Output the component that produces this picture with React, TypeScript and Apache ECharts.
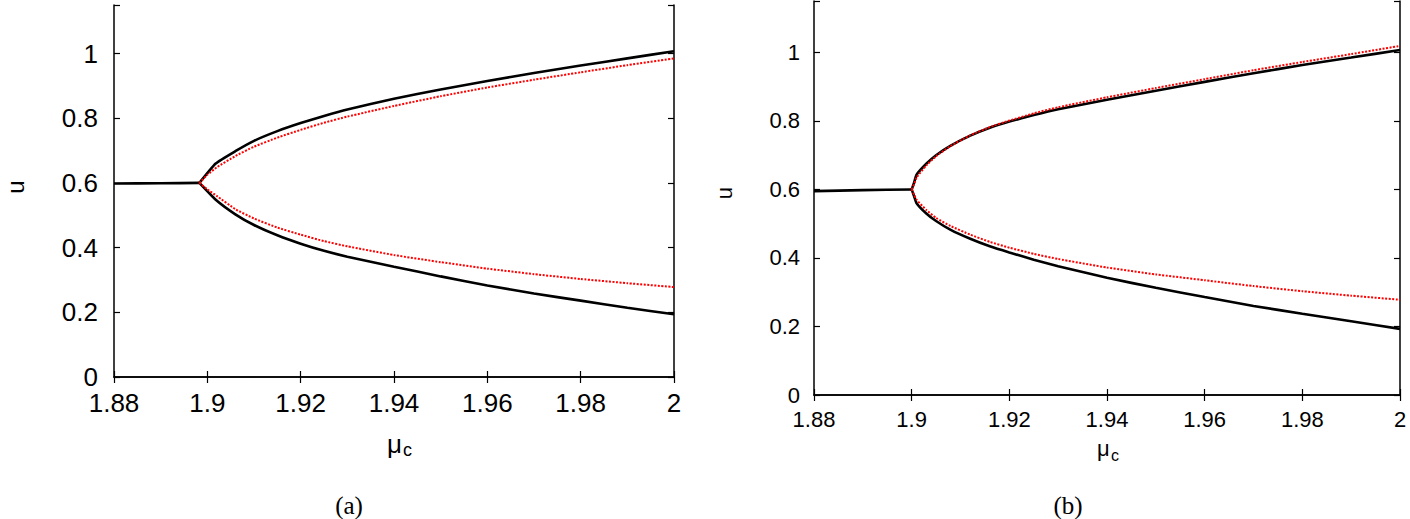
import React, { useEffect, useRef } from 'react';
import * as echarts from 'echarts';

// ---------- Panel (a) ----------
const muA_stable = [1.88, 1.89, 1.8983];
const uA_stable = [0.598, 0.599, 0.6];
const muA_black = [1.8983, 1.9018, 1.906, 1.91, 1.915, 1.92, 1.925, 1.93, 1.94, 1.95, 1.96, 1.97, 1.98, 1.99, 2.0];
const uA_black_up = [0.6, 0.66, 0.698, 0.73, 0.76, 0.785, 0.807, 0.827, 0.86, 0.889, 0.915, 0.94, 0.963, 0.985, 1.007];
const uA_black_lo = [0.6, 0.548, 0.503, 0.47, 0.438, 0.412, 0.39, 0.372, 0.341, 0.311, 0.283, 0.258, 0.236, 0.214, 0.194];
const muA_red = [1.8983, 1.9, 1.902, 1.906, 1.91, 1.915, 1.92, 1.925, 1.93, 1.94, 1.95, 1.96, 1.97, 1.98, 1.99, 2.0];
const uA_red_up = [0.6, 0.625, 0.648, 0.683, 0.712, 0.74, 0.764, 0.786, 0.805, 0.838, 0.868, 0.895, 0.919, 0.942, 0.964, 0.985];
const uA_red_lo = [0.6, 0.58, 0.56, 0.519, 0.49, 0.462, 0.44, 0.42, 0.404, 0.377, 0.355, 0.335, 0.318, 0.303, 0.29, 0.278];

// ---------- Panel (b) ----------
const muB_stable = [1.88, 1.89, 1.9];
const uB_stable = [0.595, 0.598, 0.6];
const muB = [1.9, 1.9005, 1.901, 1.903, 1.905, 1.908, 1.912, 1.916, 1.92, 1.925, 1.93, 1.94, 1.95, 1.96, 1.97, 1.98, 1.99, 2.0];
const uB_black_up = [0.6, 0.62, 0.643, 0.675, 0.7, 0.728, 0.757, 0.78, 0.798, 0.817, 0.834, 0.862, 0.888, 0.914, 0.939, 0.963, 0.985, 1.007];
const uB_black_lo = [0.6, 0.58, 0.56, 0.53, 0.508, 0.482, 0.456, 0.434, 0.416, 0.395, 0.376, 0.342, 0.313, 0.286, 0.26, 0.237, 0.215, 0.193];
const uB_red_up = [0.6, 0.615, 0.635, 0.67, 0.697, 0.727, 0.758, 0.782, 0.801, 0.822, 0.84, 0.869, 0.896, 0.922, 0.948, 0.972, 0.995, 1.019];
const uB_red_lo = [0.6, 0.585, 0.57, 0.54, 0.517, 0.493, 0.468, 0.447, 0.43, 0.412, 0.397, 0.372, 0.352, 0.335, 0.318, 0.303, 0.29, 0.278];

const X_MIN = 1.88;
const X_MAX = 2.0;
const X_STEP = 0.02;
const Y_MIN = 0;
const Y_MAX = 1.15;
const Y_STEP = 0.2;

const zip = (xs: number[], ys: number[]) => xs.map((x, i) => [x, ys[i]]);

const FONT = 'Liberation Sans, Arial, Helvetica, sans-serif';
const SERIF = 'Liberation Serif, DejaVu Serif, serif';

function makeAxes(grid: number, fontSize: number, xMargin: number, yMargin: number) {
  const line = { show: true, lineStyle: { color: '#000', width: 1.5 } };
  const tick = { show: true, inside: true, length: 6, lineStyle: { color: '#000', width: 1.2 } };
  const xBase = { gridIndex: grid, type: 'value', min: X_MIN, max: X_MAX, interval: X_STEP, splitLine: { show: false }, axisLine: line, axisTick: tick };
  const yBase = { gridIndex: grid, type: 'value', min: Y_MIN, max: Y_MAX, interval: Y_STEP, splitLine: { show: false }, axisLine: line, axisTick: tick };
  const xAxes = [
    {
      ...xBase,
      position: 'bottom',
      axisLabel: {
        show: true, color: '#000', fontSize, fontFamily: FONT, margin: xMargin,
        formatter: (v: number) => String(+v.toFixed(2)),
      },
    },
    { ...xBase, position: 'top', axisLabel: { show: false } },
  ];
  const yAxes = [
    {
      ...yBase,
      position: 'left',
      axisLabel: {
        show: true, color: '#000', fontSize, fontFamily: FONT, margin: yMargin,
        formatter: (v: number) => (v > 1.01 ? '' : String(+v.toFixed(1))),
      },
    },
    { ...yBase, position: 'right', axisLabel: { show: false } },
  ];
  return { xAxes, yAxes };
}

function lineSeries(data: number[][], xi: number, yi: number, red: boolean) {
  return {
    type: 'line',
    xAxisIndex: xi,
    yAxisIndex: yi,
    data,
    showSymbol: false,
    symbol: 'none',
    smooth: 0.15,
    z: red ? 3 : 2,
    lineStyle: red
      ? { color: '#ff0000', width: 2, type: [2, 1.5] }
      : { color: '#000', width: 2.6 },
  };
}

export default function App() {
  const ref = useRef<HTMLDivElement>(null);

  useEffect(() => {
    if (!ref.current) return;
    const chart = echarts.init(ref.current, null, { renderer: 'svg' });
    const a = makeAxes(0, 26, 13, 16);
    const b = makeAxes(1, 22, 13, 14);

    const option: any = {
      animation: false,
      backgroundColor: '#fff',
      grid: [
        { left: 114, top: 5, width: 560, height: 372 },
        { left: 814, top: 1, width: 586, height: 394 },
      ],
      xAxis: [...a.xAxes, ...b.xAxes],
      yAxis: [...a.yAxes, ...b.yAxes],
      series: [
        lineSeries(zip(muA_stable, uA_stable), 0, 0, false),
        lineSeries(zip(muA_black, uA_black_up), 0, 0, false),
        lineSeries(zip(muA_black, uA_black_lo), 0, 0, false),
        lineSeries(zip(muA_red, uA_red_up), 0, 0, true),
        lineSeries(zip(muA_red, uA_red_lo), 0, 0, true),
        lineSeries(zip(muB_stable, uB_stable), 2, 2, false),
        lineSeries(zip(muB, uB_black_up), 2, 2, false),
        lineSeries(zip(muB, uB_black_lo), 2, 2, false),
        lineSeries(zip(muB, uB_red_up), 2, 2, true),
        lineSeries(zip(muB, uB_red_lo), 2, 2, true),
      ],
      graphic: [
        // panel (a) axis names
        { type: 'text', left: 387, top: 431, style: { text: 'μ', fontSize: 26, fontFamily: FONT, fill: '#000' } },
        { type: 'text', left: 403, top: 441, style: { text: 'c', fontSize: 18, fontFamily: FONT, fill: '#000' } },
        { type: 'text', x: 15, y: 187, rotation: Math.PI / 2, style: { text: 'u', fontSize: 24, fontFamily: FONT, fill: '#000', align: 'center', verticalAlign: 'middle' } },
        { type: 'text', x: 349, y: 505, style: { text: '(a)', fontSize: 25, fontFamily: SERIF, fill: '#000', align: 'center', verticalAlign: 'middle' } },
        // panel (b) axis names
        { type: 'text', left: 1097, top: 437, style: { text: 'μ', fontSize: 22, fontFamily: FONT, fill: '#000' } },
        { type: 'text', left: 1111, top: 447, style: { text: 'c', fontSize: 16, fontFamily: FONT, fill: '#000' } },
        { type: 'text', x: 724, y: 193, rotation: Math.PI / 2, style: { text: 'u', fontSize: 22, fontFamily: FONT, fill: '#000', align: 'center', verticalAlign: 'middle' } },
        { type: 'text', x: 1068, y: 505, style: { text: '(b)', fontSize: 25, fontFamily: SERIF, fill: '#000', align: 'center', verticalAlign: 'middle' } },
      ],
    };
    chart.setOption(option);
    return () => chart.dispose();
  }, []);

  return (
    <div
      ref={ref}
      style={{ position: 'absolute', left: 0, top: 0, width: 1410, height: 519, background: '#fff' }}
    />
  );
}
